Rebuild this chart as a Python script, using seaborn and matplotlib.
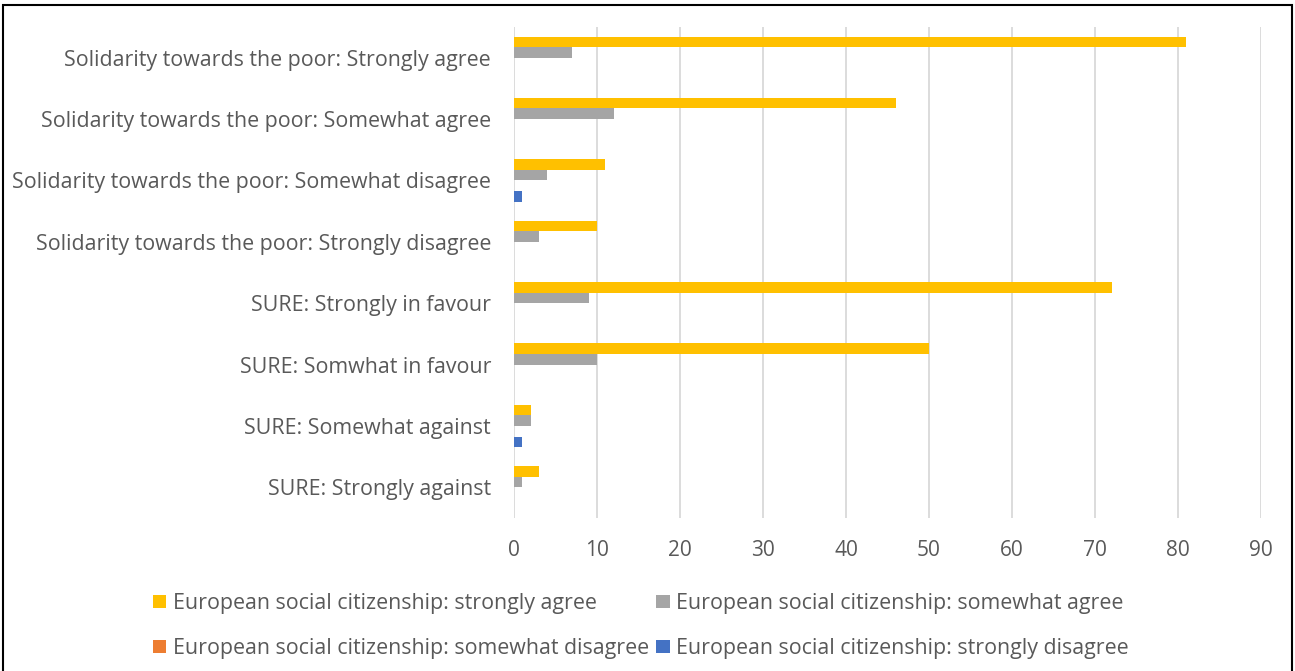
import matplotlib
matplotlib.use("Agg")
import matplotlib.pyplot as plt
from matplotlib.patches import Rectangle, Patch
import seaborn as sns
import pandas as pd

categories = [
    "Solidarity towards the poor: Strongly agree",
    "Solidarity towards the poor: Somewhat agree",
    "Solidarity towards the poor: Somewhat disagree",
    "Solidarity towards the poor: Strongly disagree",
    "SURE: Strongly in favour",
    "SURE: Somwhat in favour",
    "SURE: Somewhat against",
    "SURE: Strongly against",
]
series = [
    "European social citizenship: strongly agree",
    "European social citizenship: somewhat agree",
    "European social citizenship: somewhat disagree",
    "European social citizenship: strongly disagree",
]
strongly_agree = [81, 46, 11, 10, 72, 50, 2, 3]
somewhat_agree = [7, 12, 4, 3, 9, 10, 2, 1]
somewhat_disagree = [0, 0, 0, 0, 0, 0, 0, 0]
strongly_disagree = [0, 0, 1, 0, 0, 0, 1, 0]
colors = ["#FFC000", "#A5A5A5", "#ED7D31", "#4472C4"]
x_ticks = [0, 10, 20, 30, 40, 50, 60, 70, 80, 90]

rows = []
for s, vals in zip(series, [strongly_agree, somewhat_agree, somewhat_disagree, strongly_disagree]):
    for c, v in zip(categories, vals):
        rows.append({"category": c, "series": s, "value": v})
df = pd.DataFrame(rows)

sns.set_theme(style="white")
plt.rcParams["font.family"] = ["Open Sans", "DejaVu Sans"]

fig = plt.figure(figsize=(12.95, 6.71), dpi=100)
ax = fig.add_axes([514 / 1295, 1 - 518 / 671, (1261 - 514) / 1295, (518 - 27) / 671])

sns.barplot(data=df, y="category", x="value", hue="series", order=categories,
            hue_order=series, palette=colors, orient="h", width=0.69,
            saturation=1, ax=ax, legend=False, linewidth=0)

ax.set_xlim(0, 90)
ax.set_ylim(len(categories) - 0.5, -0.5)
ax.set_xticks(x_ticks)
ax.set_xlabel("")
ax.set_ylabel("")
ax.grid(axis="x", color="#D9D9D9", linewidth=1.3)
ax.grid(axis="y", visible=False)
ax.set_axisbelow(True)
for sp in ax.spines.values():
    sp.set_visible(False)
ax.tick_params(axis="x", labelsize=15, labelcolor="#595959", length=0, pad=16)
ax.tick_params(axis="y", labelsize=15.4, labelcolor="#595959", length=0, pad=16.5)

handles = [Patch(facecolor=c, edgecolor="none") for c in colors]
order = [0, 2, 1, 3]
fig.legend([handles[i] for i in order], [series[i] for i in order],
           ncol=2, loc="center", bbox_to_anchor=(641 / 1295, 1 - 626 / 671),
           frameon=False, fontsize=15.4, labelcolor="#595959",
           handlelength=0.62, handleheight=0.62, handletextpad=0.3,
           columnspacing=0.35, labelspacing=1.12, borderpad=0)

fig.patches.append(Rectangle((3 / 1295, -0.01), 1289 / 1295, 1 - 5 / 671 + 0.01,
                             transform=fig.transFigure, fill=False,
                             edgecolor="black", linewidth=1.5))

fig.savefig("out.png", dpi=100, facecolor="white")
